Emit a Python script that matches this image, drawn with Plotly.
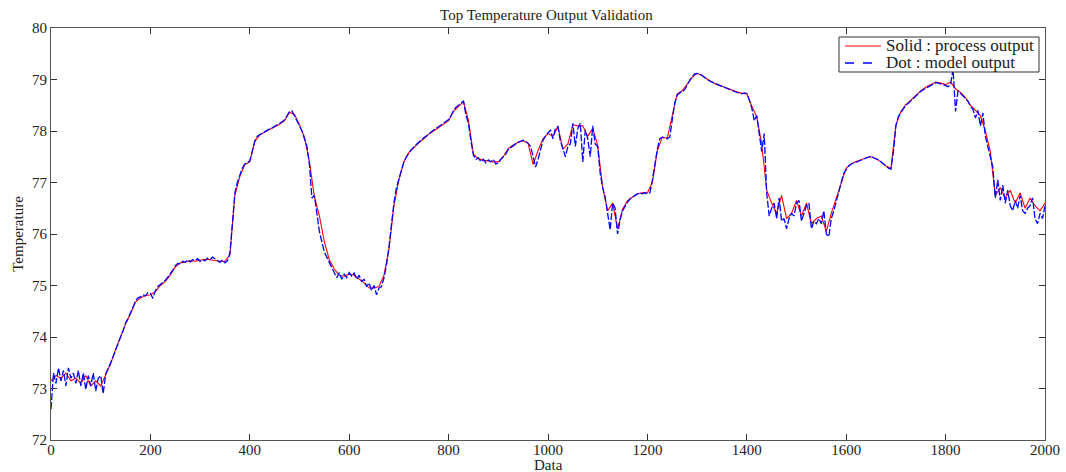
import plotly.graph_objects as go

# model output (blue), sampled every 5 data points, x = 0..2000
model_step = 5
model_output = [
    72.60, 73.30, 73.10, 73.40, 73.15, 73.35, 73.05, 73.40, 73.20, 73.30, 73.10, 73.35, 73.05, 73.30, 72.98, 73.25, 73.05, 73.30, 72.95, 73.20,
    73.25, 72.90, 73.28, 73.38, 73.50, 73.62, 73.76, 73.88, 74.00, 74.12, 74.27, 74.36, 74.46, 74.58, 74.70, 74.76, 74.78, 74.82, 74.80, 74.86,
    74.85, 74.75, 74.90, 74.98, 75.02, 75.06, 75.10, 75.16, 75.22, 75.30, 75.38, 75.43, 75.42, 75.47, 75.45, 75.50, 75.46, 75.50, 75.48, 75.52,
    75.47, 75.50, 75.48, 75.53, 75.50, 75.55, 75.52, 75.48, 75.45, 75.50, 75.44, 75.48, 75.62, 76.20, 76.80, 77.00, 77.15, 77.28, 77.36, 77.38,
    77.42, 77.62, 77.80, 77.90, 77.93, 77.96, 77.99, 78.01, 78.04, 78.06, 78.09, 78.12, 78.14, 78.18, 78.22, 78.30, 78.38, 78.39, 78.30, 78.20,
    78.10, 78.00, 77.85, 77.70, 77.35, 76.70, 76.75, 76.35, 76.05, 75.85, 75.65, 75.55, 75.45, 75.35, 75.28, 75.15, 75.25, 75.12, 75.22, 75.15,
    75.25, 75.18, 75.24, 75.12, 75.20, 75.08, 75.12, 74.98, 75.05, 74.90, 75.00, 74.82, 74.95, 74.98, 75.15, 75.40, 75.75, 76.25, 76.60, 76.90,
    77.08, 77.25, 77.40, 77.50, 77.58, 77.64, 77.69, 77.74, 77.78, 77.82, 77.87, 77.90, 77.95, 77.98, 78.02, 78.05, 78.08, 78.11, 78.15, 78.19,
    78.22, 78.30, 78.40, 78.46, 78.50, 78.54, 78.58, 78.30, 78.15, 77.80, 77.53, 77.45, 77.48, 77.40, 77.45, 77.38, 77.44, 77.40, 77.45, 77.36,
    77.38, 77.45, 77.50, 77.55, 77.64, 77.68, 77.72, 77.75, 77.78, 77.80, 77.82, 77.80, 77.76, 77.70, 77.50, 77.30, 77.45, 77.65, 77.82, 77.90,
    77.95, 78.02, 77.85, 78.05, 78.09, 77.80, 77.66, 77.50, 77.70, 77.75, 78.15, 77.70, 78.05, 78.15, 77.40, 78.02, 77.85, 77.50, 78.10, 77.75,
    77.70, 77.18, 76.90, 76.72, 76.40, 76.08, 76.60, 76.50, 76.00, 76.27, 76.45, 76.55, 76.62, 76.68, 76.72, 76.75, 76.78, 76.80, 76.78, 76.80,
    76.78, 76.80, 77.05, 77.35, 77.65, 77.85, 77.88, 77.86, 77.85, 77.88, 78.20, 78.55, 78.70, 78.74, 78.77, 78.80, 78.90, 78.98, 79.05, 79.11,
    79.12, 79.10, 79.08, 79.04, 79.00, 78.97, 78.95, 78.93, 78.90, 78.88, 78.87, 78.85, 78.82, 78.80, 78.78, 78.77, 78.75, 78.74, 78.72, 78.74,
    78.72, 78.60, 78.45, 78.20, 78.30, 77.95, 77.60, 77.95, 76.80, 76.35, 76.50, 76.60, 76.30, 76.70, 76.25, 76.30, 76.10, 76.30, 76.40, 76.35,
    76.60, 76.65, 76.25, 76.40, 76.55, 76.60, 76.10, 76.25, 76.20, 76.30, 76.20, 76.45, 76.00, 75.95, 76.30, 76.45, 76.65, 76.85, 77.00, 77.18,
    77.26, 77.32, 77.36, 77.38, 77.40, 77.42, 77.44, 77.46, 77.48, 77.50, 77.51, 77.48, 77.46, 77.44, 77.40, 77.36, 77.32, 77.28, 77.26, 77.60,
    78.10, 78.28, 78.36, 78.43, 78.50, 78.54, 78.59, 78.64, 78.69, 78.73, 78.77, 78.80, 78.83, 78.86, 78.89, 78.92, 78.94, 78.93, 78.92, 78.90,
    78.88, 78.86, 78.90, 79.20, 78.38, 78.78, 78.73, 78.68, 78.62, 78.58, 78.48, 78.42, 78.25, 78.40, 78.10, 78.35, 77.90, 77.70, 77.55, 77.30,
    76.70, 77.05, 76.65, 76.95, 76.60, 76.85, 76.55, 76.45, 76.65, 76.50, 76.75, 76.45, 76.40, 76.50, 76.55, 76.70, 76.30, 76.20, 76.40, 76.30,
    76.55,
]

# process output (red), sampled every 10 data points, x = 0..2000
process_step = 10
process_output = [
    73.15, 73.25, 73.20, 73.30, 73.15, 73.20, 73.10, 73.25, 73.05, 73.15,
    73.05, 73.25, 73.48, 73.76, 74.00, 74.25, 74.45, 74.68, 74.76, 74.80,
    74.82, 74.88, 75.00, 75.08, 75.20, 75.36, 75.44, 75.45, 75.48, 75.47,
    75.49, 75.51, 75.50, 75.48, 75.47, 75.47, 75.60, 76.75, 77.12, 77.35,
    77.40, 77.80, 77.92, 77.98, 78.03, 78.08, 78.13, 78.20, 78.36, 78.32,
    78.12, 77.88, 77.40, 76.72, 76.35, 75.85, 75.50, 75.32, 75.20, 75.18,
    75.22, 75.20, 75.12, 75.05, 74.95, 74.95, 74.98, 75.20, 75.70, 76.55,
    77.05, 77.40, 77.58, 77.68, 77.77, 77.85, 77.94, 78.00, 78.07, 78.14,
    78.20, 78.38, 78.48, 78.57, 78.20, 77.55, 77.46, 77.43, 77.42, 77.40,
    77.40, 77.50, 77.66, 77.73, 77.78, 77.81, 77.76, 77.35, 77.62, 77.85,
    77.95, 77.90, 78.08, 77.65, 77.75, 78.12, 78.10, 78.10, 77.90, 78.05,
    77.72, 76.90, 76.45, 76.60, 76.10, 76.48, 76.65, 76.72, 76.78, 76.80,
    76.80, 77.00, 77.62, 77.88, 77.86, 78.30, 78.72, 78.78, 78.90, 79.04,
    79.12, 79.08, 79.01, 78.96, 78.90, 78.87, 78.83, 78.79, 78.76, 78.73,
    78.73, 78.48, 78.28, 77.75, 76.85, 76.60, 76.40, 76.75, 76.30, 76.40,
    76.65, 76.35, 76.60, 76.20, 76.30, 76.35, 76.05, 76.40, 76.70, 77.02,
    77.28, 77.36, 77.41, 77.44, 77.48, 77.50, 77.46, 77.40, 77.32, 77.27,
    78.12, 78.38, 78.51, 78.60, 78.70, 78.78, 78.85, 78.90, 78.95, 78.93,
    78.90, 78.95, 78.82, 78.75, 78.65, 78.50, 78.40, 78.30, 78.00, 77.60,
    76.75, 76.90, 76.70, 76.85, 76.60, 76.80, 76.50, 76.70, 76.55, 76.45,
    76.60,
]

series_names = ["Solid : process output", "Dot : model output"]
x_ticks = [0, 200, 400, 600, 800, 1000, 1200, 1400, 1600, 1800, 2000]
y_ticks = [72, 73, 74, 75, 76, 77, 78, 79, 80]

x_model = [i * model_step for i in range(len(model_output))]
x_process = [i * process_step for i in range(len(process_output))]

serif = "Liberation Serif, Times New Roman, serif"
txt = "#222222"
red = "#ff0000"
blue = "#0000ff"

fig = go.Figure()
fig.add_trace(go.Scatter(x=x_process, y=process_output, mode="lines",
                         name=series_names[0], showlegend=False,
                         line=dict(color=red, width=1.1)))
fig.add_trace(go.Scatter(x=x_model, y=model_output, mode="lines",
                         name=series_names[1], showlegend=False,
                         line=dict(color=blue, width=1.3, dash="7px,2px")))

axis_common = dict(showline=True, mirror="ticks", linecolor="#555555", linewidth=1,
                   ticks="inside", ticklen=6, tickcolor="#333333",
                   showgrid=False, zeroline=False, automargin=False,
                   tickfont=dict(family=serif, size=15, color=txt))

# plot area in pixels: left 51, right 1045, top 28, bottom 440
L, R, T, B = 51, 1045, 28, 440
def px(xp):
    return (xp - L) / (R - L)
def py(yp):
    return (B - yp) / (B - T)

# legend box (drawn in paper coordinates)
shapes = [
    dict(type="rect", xref="paper", yref="paper", x0=px(839), x1=px(1039), y0=py(72), y1=py(37),
         line=dict(color="#333333", width=1), fillcolor="white", layer="above"),
    dict(type="line", xref="paper", yref="paper", x0=px(845), x1=px(881), y0=py(46), y1=py(46),
         line=dict(color=red, width=1.2), layer="above"),
    dict(type="line", xref="paper", yref="paper", x0=px(845), x1=px(881), y0=py(63), y1=py(63),
         line=dict(color=blue, width=1.3, dash="dash"), layer="above"),
]
annotations = [
    dict(text=series_names[0], xref="paper", yref="paper", x=px(884), y=py(46),
         xanchor="left", yanchor="middle", showarrow=False,
         font=dict(family=serif, size=17, color=txt)),
    dict(text=series_names[1], xref="paper", yref="paper", x=px(884), y=py(63),
         xanchor="left", yanchor="middle", showarrow=False,
         font=dict(family=serif, size=17, color=txt)),
    dict(text="Data", xref="paper", yref="paper", x=0.5, y=py(465),
         xanchor="center", yanchor="middle", showarrow=False,
         font=dict(family=serif, size=15, color=txt)),
]

fig.update_layout(
    width=1066, height=472,
    margin=dict(l=L, r=1066 - R, t=T, b=472 - B),
    paper_bgcolor="white", plot_bgcolor="white",
    title=dict(text="Top Temperature Output Validation", x=0.5126, xanchor="center",
               y=0.968, yanchor="middle",
               font=dict(family=serif, size=15, color=txt)),
    xaxis=dict(range=[0, 2000], tickvals=x_ticks, ticklabelstandoff=-4, **axis_common),
    yaxis=dict(range=[72, 80], tickvals=y_ticks,
               title=dict(text="Temperature", standoff=4, font=dict(family=serif, size=15, color=txt)),
               **axis_common),
    shapes=shapes,
    annotations=annotations,
    showlegend=False,
)

fig.write_html("out.html")
